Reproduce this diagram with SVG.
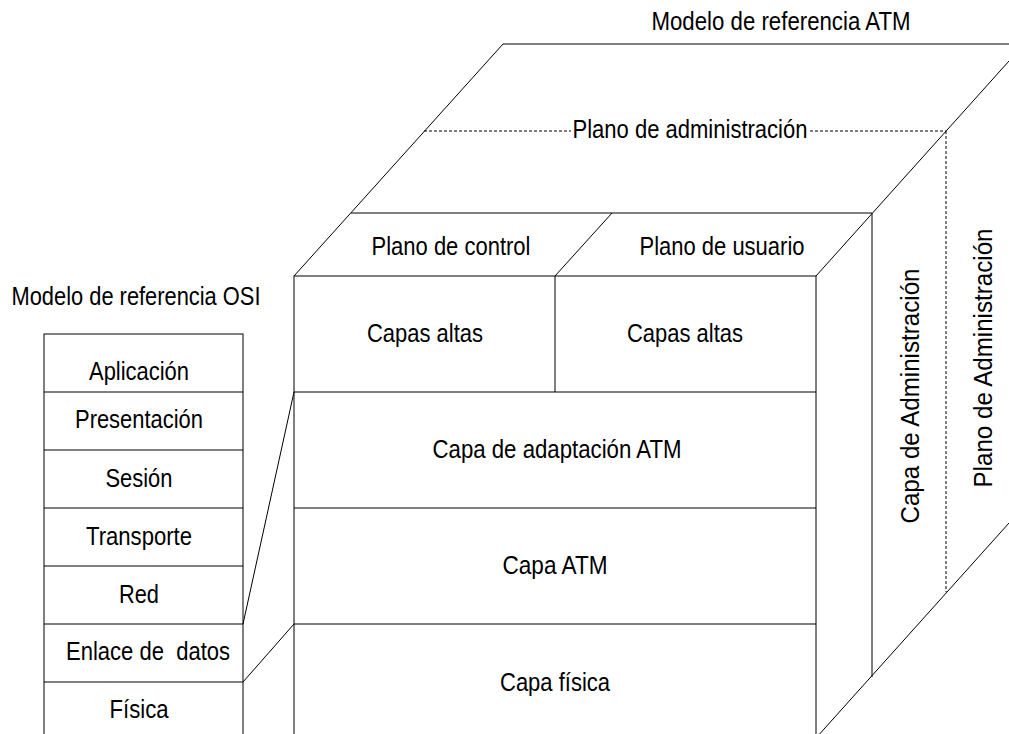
<svg xmlns="http://www.w3.org/2000/svg" width="1009" height="734" viewBox="0 0 1009 734">
<style>
.ln{stroke:#000;stroke-width:1;fill:none}
.dash{stroke:#000;stroke-width:1;fill:none;stroke-dasharray:3,2}
.box{stroke:#000;stroke-width:1;fill:#fff}
text{font-family:"Liberation Sans",Arial,sans-serif;font-size:25px;fill:#000}
.c{text-anchor:middle}
</style>
<rect width="1009" height="734" fill="#fff"/>
<g id="atm-cube">
<line class="ln" x1="503" y1="44" x2="1009" y2="44"/>
<line class="ln" x1="503" y1="44" x2="294" y2="276"/>
<line class="ln" x1="1009" y1="61" x2="816" y2="276"/>
<line class="ln" x1="351" y1="213" x2="872" y2="213"/>
<line class="ln" x1="612" y1="213" x2="555" y2="276"/>
<line class="dash" x1="424" y1="131" x2="571" y2="131"/>
<line class="dash" x1="810" y1="131" x2="946" y2="131"/>
<line class="ln" x1="872" y1="213" x2="872" y2="677"/>
<line class="dash" x1="946" y1="131" x2="946" y2="592"/>
<line class="ln" x1="816" y1="738" x2="1009" y2="523"/>
</g>
<g id="atm-front">
<rect class="box" x="294" y="276" width="522" height="470"/>
<line class="ln" x1="555" y1="276" x2="555" y2="392"/>
<line class="ln" x1="294" y1="392" x2="816" y2="392"/>
<line class="ln" x1="294" y1="508" x2="816" y2="508"/>
<line class="ln" x1="294" y1="624" x2="816" y2="624"/>
</g>
<g id="osi">
<rect class="box" x="44" y="334" width="199" height="410"/>
<line class="ln" x1="44" y1="392" x2="243" y2="392"/>
<line class="ln" x1="44" y1="450" x2="243" y2="450"/>
<line class="ln" x1="44" y1="508" x2="243" y2="508"/>
<line class="ln" x1="44" y1="566" x2="243" y2="566"/>
<line class="ln" x1="44" y1="624" x2="243" y2="624"/>
<line class="ln" x1="44" y1="682" x2="243" y2="682"/>
</g>
<g id="connectors">
<line class="ln" x1="243" y1="624" x2="294" y2="392"/>
<line class="ln" x1="243" y1="682" x2="294" y2="624"/>
</g>
<g id="labels">
<text class="c" x="781" y="30" textLength="259" lengthAdjust="spacingAndGlyphs">Modelo de referencia ATM</text>
<text class="c" x="690" y="138" textLength="235" lengthAdjust="spacingAndGlyphs">Plano de administración</text>
<text class="c" x="451" y="255" textLength="159" lengthAdjust="spacingAndGlyphs">Plano de control</text>
<text class="c" x="722" y="255" textLength="165" lengthAdjust="spacingAndGlyphs">Plano de usuario</text>
<text class="c" x="425" y="342" textLength="116" lengthAdjust="spacingAndGlyphs">Capas altas</text>
<text class="c" x="685" y="342" textLength="116" lengthAdjust="spacingAndGlyphs">Capas altas</text>
<text class="c" x="557" y="458" textLength="249" lengthAdjust="spacingAndGlyphs">Capa de adaptación ATM</text>
<text class="c" x="555" y="574" textLength="105" lengthAdjust="spacingAndGlyphs">Capa ATM</text>
<text class="c" x="555" y="691" textLength="110" lengthAdjust="spacingAndGlyphs">Capa física</text>
<text class="c" transform="translate(919,396) rotate(-90)" textLength="255" lengthAdjust="spacingAndGlyphs">Capa de Administración</text>
<text class="c" transform="translate(992,358) rotate(-90)" textLength="259" lengthAdjust="spacingAndGlyphs">Plano de Administración</text>
<text class="c" x="136" y="305" textLength="249" lengthAdjust="spacingAndGlyphs">Modelo de referencia OSI</text>
<text class="c" x="139" y="380" textLength="100" lengthAdjust="spacingAndGlyphs">Aplicación</text>
<text class="c" x="139" y="428" textLength="128" lengthAdjust="spacingAndGlyphs">Presentación</text>
<text class="c" x="139" y="487" textLength="67" lengthAdjust="spacingAndGlyphs">Sesión</text>
<text class="c" x="139" y="545" textLength="106" lengthAdjust="spacingAndGlyphs">Transporte</text>
<text class="c" x="139" y="603" textLength="40" lengthAdjust="spacingAndGlyphs">Red</text>
<text class="c" x="148" y="660" xml:space="preserve" textLength="164" lengthAdjust="spacingAndGlyphs">Enlace de  datos</text>
<text class="c" x="139" y="718" textLength="59" lengthAdjust="spacingAndGlyphs">Física</text>
</g>
</svg>
